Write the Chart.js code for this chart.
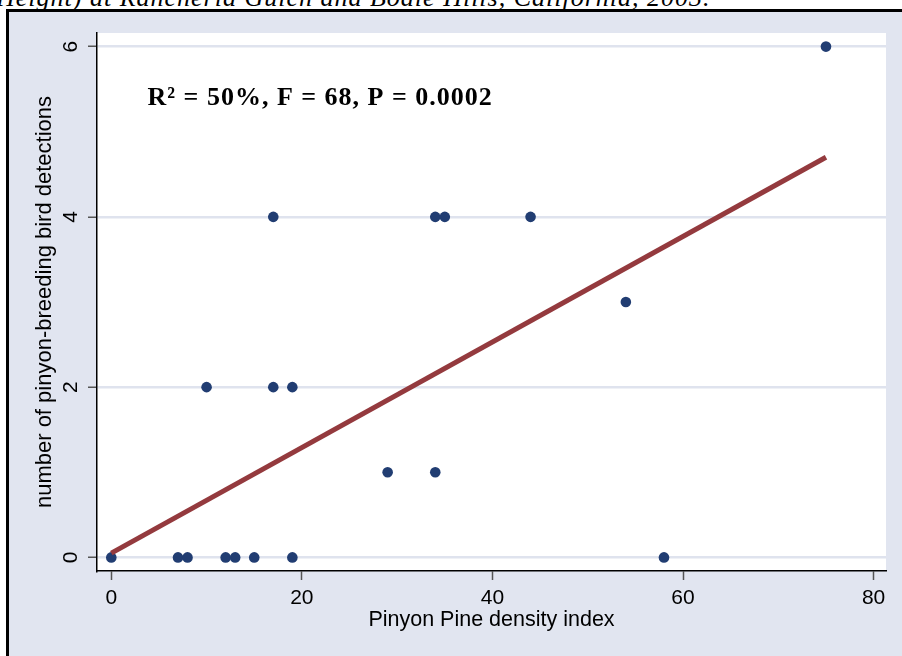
<!DOCTYPE html>
<html>
<head>
<meta charset="utf-8">
<script src="https://cdn.jsdelivr.net/npm/chart.js@4.4.1/dist/chart.umd.min.js"></script>
<style>
  body { margin: 0; background: #fff; width: 902px; height: 656px; overflow: hidden; position: relative; }
  #caption {
    position: absolute; left: -4px; top: -17px; white-space: nowrap;
    font: italic 26px "Liberation Serif", serif; letter-spacing: 1px; color: #000;
  }
  #frame {
    position: absolute; left: 6px; top: 9px; width: 900px; height: 660px;
    border-left: 3px solid #000; border-top: 3px solid #000; background: #e1e5f0;
  }
  #frame canvas { position: absolute; left: 0; top: 0; }
</style>
</head>
<body>
<div id="caption">Height) at Rancheria Gulch and Bodie Hills, California, 2003.</div>
<div id="frame"><canvas id="chart" width="893" height="644"></canvas></div>
<script>
// Pinyon density index vs. bird detections
const densityIndex = [0, 7, 8, 12, 13, 15, 19, 58, 10, 17, 19, 29, 34, 17, 34, 35, 44, 54, 75];
const detections   = [0, 0, 0, 0, 0, 0, 0, 0, 2, 2, 2, 1, 1, 4, 4, 4, 4, 3, 6];

// fitted regression line end points
const fitX = [0, 75];
const fitY = [0.05, 4.7];

const xTicks = [0, 20, 40, 60, 80];
const yTicks = [0, 2, 4, 6];

const statsText = 'R\u00B2 = 50%, F = 68, P = 0.0002';

const gridColor = '#dfe3ee';

// white plot region + stats text
const plotArea = {
  id: 'plotArea',
  beforeDraw(chart) {
    const { ctx, chartArea: a } = chart;
    ctx.save();
    ctx.fillStyle = '#fff';
    ctx.fillRect(a.left, a.top, a.right - a.left, a.bottom - a.top);
    ctx.restore();
  },
  afterDatasetsDraw(chart) {
    const { ctx, scales } = chart;
    ctx.save();
    ctx.font = 'bold 26px "Liberation Serif", serif';
    ctx.letterSpacing = '1px';
    ctx.fillStyle = '#000';
    ctx.textBaseline = 'alphabetic';
    ctx.fillText(statsText, scales.x.getPixelForValue(3.8), scales.y.getPixelForValue(5.31));
    ctx.restore();
  }
};

const points = densityIndex.map((x, i) => ({ x: x, y: detections[i] }));
const fitLine = fitX.map((x, i) => ({ x: x, y: fitY[i] }));

const axisFont = { family: '"Liberation Sans", Arial', size: 21 };

new Chart(document.getElementById('chart'), {
  type: 'scatter',
  data: {
    datasets: [
      {
        type: 'line',
        data: fitLine,
        borderColor: '#943a3e',
        borderWidth: 5,
        pointRadius: 0,
        fill: false
      },
      {
        data: points,
        backgroundColor: '#213d72',
        borderWidth: 0,
        pointRadius: 5.3
      }
    ]
  },
  options: {
    responsive: false,
    animation: false,
    devicePixelRatio: 1,
    layout: { padding: { left: 0, top: 21, right: 16, bottom: 0 } },
    plugins: { legend: { display: false }, tooltip: { enabled: false } },
    scales: {
      x: {
        type: 'linear',
        min: -1.5,
        max: 81.3,
        afterBuildTicks: (s) => { s.ticks = xTicks.map(v => ({ value: v })); },
        afterFit: (s) => { s.height = 85; },
        border: { display: true, color: '#000', width: 1.5 },
        grid: { drawOnChartArea: false, drawTicks: true, tickLength: 9, tickColor: '#555', tickWidth: 1.5 },
        ticks: { color: '#000', font: axisFont, padding: 6, maxRotation: 0 },
        title: {
          display: true, text: 'Pinyon Pine density index', color: '#000',
          font: { family: '"Liberation Sans", Arial', size: 21.5 }, padding: { top: 0, bottom: 23 }
        }
      },
      y: {
        type: 'linear',
        min: -0.16,
        max: 6.16,
        afterBuildTicks: (s) => { s.ticks = yTicks.map(v => ({ value: v })); },
        afterFit: (s) => { s.width = 88; s.paddingTop = 0; s.paddingBottom = 0; },
        border: { display: true, color: '#000', width: 1.5 },
        grid: { color: gridColor, lineWidth: 2.5, drawTicks: true, tickLength: 9, tickColor: '#555', tickWidth: 1.5 },
        ticks: {
          color: '#000', font: axisFont,
          minRotation: 90, maxRotation: 90, crossAlign: 'center', padding: 11
        },
        title: {
          display: true, text: 'number of pinyon-breeding bird detections', color: '#000',
          font: { family: '"Liberation Sans", Arial', size: 22 }, padding: { top: 23, bottom: 0 }
        }
      }
    }
  },
  plugins: [plotArea]
});
</script>
</body>
</html>
